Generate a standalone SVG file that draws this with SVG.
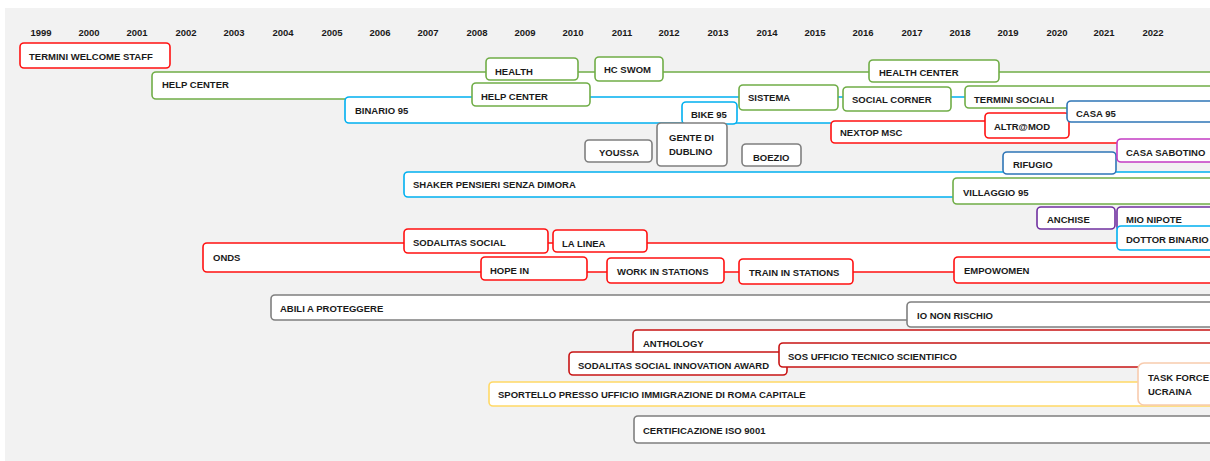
<svg xmlns="http://www.w3.org/2000/svg" width="1210" height="461" viewBox="0 0 1210 461">
<style>
rect.n{fill:#ffffff;stroke-width:1.6}
.r{stroke:#ff1111}
.dr{stroke:#c81414}
.g{stroke:#70ad47}
.b{stroke:#00b0f0}
.db{stroke:#2e75b6}
.p{stroke:#7030a0}
.m{stroke:#c33cc3}
.gy{stroke:#7f7f7f}
.y{stroke:#ffd966}
.pe{stroke:#f8cbad}
text{font-family:"Liberation Sans",Arial,sans-serif;font-weight:bold;font-size:9.5px;fill:#1a1a1a}
.yr{text-anchor:middle}
</style>
<rect x="5" y="8" width="1210" height="460" fill="#f2f2f2"/>
<g id="years">
<text class="yr" x="41" y="35.5">1999</text>
<text class="yr" x="89" y="35.5">2000</text>
<text class="yr" x="137" y="35.5">2001</text>
<text class="yr" x="186" y="35.5">2002</text>
<text class="yr" x="234" y="35.5">2003</text>
<text class="yr" x="283" y="35.5">2004</text>
<text class="yr" x="332" y="35.5">2005</text>
<text class="yr" x="380" y="35.5">2006</text>
<text class="yr" x="428" y="35.5">2007</text>
<text class="yr" x="477" y="35.5">2008</text>
<text class="yr" x="525" y="35.5">2009</text>
<text class="yr" x="573" y="35.5">2010</text>
<text class="yr" x="622" y="35.5">2011</text>
<text class="yr" x="669" y="35.5">2012</text>
<text class="yr" x="718" y="35.5">2013</text>
<text class="yr" x="767" y="35.5">2014</text>
<text class="yr" x="815" y="35.5">2015</text>
<text class="yr" x="863" y="35.5">2016</text>
<text class="yr" x="912" y="35.5">2017</text>
<text class="yr" x="960" y="35.5">2018</text>
<text class="yr" x="1008" y="35.5">2019</text>
<text class="yr" x="1057" y="35.5">2020</text>
<text class="yr" x="1104" y="35.5">2021</text>
<text class="yr" x="1153" y="35.5">2022</text>
</g>
<g id="connectors"></g>
<g id="termini-welcome-staff"><rect class="n r" x="20" y="43" width="150" height="25" rx="4"/><text x="29" y="59.5">TERMINI WELCOME STAFF</text></g>
<g id="help-center"><rect class="n g" x="152" y="72" width="1090" height="27" rx="4"/><text x="162" y="87.5">HELP CENTER</text></g>
<g id="binario-95"><rect class="n b" x="345" y="97" width="900" height="26" rx="4"/><text x="355" y="113.5">BINARIO 95</text></g>
<g id="health"><rect class="n g" x="486" y="58" width="92" height="22" rx="4"/><text x="495" y="74.5">HEALTH</text></g>
<g id="hc-swom"><rect class="n g" x="595" y="57" width="68" height="24" rx="4"/><text x="604" y="72.5">HC SWOM</text></g>
<g id="health-center"><rect class="n g" x="869" y="60" width="130" height="22" rx="4"/><text x="879" y="75.5">HEALTH CENTER</text></g>
<g id="help-center-2"><rect class="n g" x="472" y="83" width="118" height="23" rx="4"/><text x="481" y="100">HELP CENTER</text></g>
<g id="sistema"><rect class="n g" x="739" y="85" width="99" height="25" rx="4"/><text x="748" y="100.5">SISTEMA</text></g>
<g id="social-corner"><rect class="n g" x="843" y="87" width="108" height="24" rx="4"/><text x="852" y="102.5">SOCIAL CORNER</text></g>
<g id="termini-sociali"><rect class="n g" x="965" y="86" width="280" height="22" rx="4"/><text x="974" y="102.5">TERMINI SOCIALI</text></g>
<g id="bike-95"><rect class="n b" x="682" y="102" width="55" height="22" rx="4"/><text x="691" y="117.5">BIKE 95</text></g>
<g id="nextop-msc"><rect class="n r" x="831" y="121" width="410" height="22" rx="4"/><text x="840" y="135.5">NEXTOP MSC</text></g>
<g id="altr-mod"><rect class="n r" x="985" y="113" width="84" height="25" rx="4"/><text x="994" y="129.5">ALTR@MOD</text></g>
<g id="casa-95"><rect class="n db" x="1067" y="101" width="180" height="21" rx="4"/><text x="1076" y="116.5">CASA 95</text></g>
<g id="gente-di-dublino"><rect class="n gy" x="657" y="123" width="70" height="43" rx="4"/><text x="669" y="140.5">GENTE DI</text><text x="669" y="154.5">DUBLINO</text></g>
<g id="youssa"><rect class="n gy" x="585" y="140" width="67" height="22" rx="4"/><text x="599" y="155.5">YOUSSA</text></g>
<g id="boezio"><rect class="n gy" x="742" y="144" width="59" height="22" rx="4"/><text x="753" y="160.5">BOEZIO</text></g>
<g id="shaker"><rect class="n b" x="404" y="172" width="840" height="25" rx="4"/><text x="413" y="187.5">SHAKER PENSIERI SENZA DIMORA</text></g>
<g id="rifugio"><rect class="n db" x="1003" y="152" width="113" height="22" rx="4"/><text x="1013" y="167.5">RIFUGIO</text></g>
<g id="casa-sabotino"><rect class="n m" x="1117" y="139" width="130" height="23" rx="4"/><text x="1126" y="155.5">CASA SABOTINO</text></g>
<g id="villaggio-95"><rect class="n g" x="953" y="178" width="290" height="26" rx="4"/><text x="963" y="195.5">VILLAGGIO 95</text></g>
<g id="anchise"><rect class="n p" x="1037" y="207" width="78" height="22" rx="4"/><text x="1047" y="222.5">ANCHISE</text></g>
<g id="mio-nipote"><rect class="n p" x="1117" y="207" width="130" height="24" rx="4"/><text x="1126" y="222.5">MIO NIPOTE</text></g>
<g id="onds"><rect class="n r" x="203" y="243" width="1040" height="29" rx="4"/><text x="213" y="260.5">ONDS</text></g>
<g id="sodalitas-social"><rect class="n r" x="404" y="229" width="144" height="24" rx="4"/><text x="413" y="245.5">SODALITAS SOCIAL</text></g>
<g id="la-linea"><rect class="n r" x="553" y="230" width="94" height="22" rx="4"/><text x="562" y="246.5">LA LINEA</text></g>
<g id="dottor-binario"><rect class="n b" x="1117" y="226" width="130" height="24" rx="4"/><text x="1126" y="242.5">DOTTOR BINARIO</text></g>
<g id="hope-in"><rect class="n r" x="481" y="257" width="106" height="23" rx="4"/><text x="490" y="273.5">HOPE IN</text></g>
<g id="work-in-stations"><rect class="n r" x="607" y="258" width="117" height="25" rx="4"/><text x="617" y="274.5">WORK IN STATIONS</text></g>
<g id="train-in-stations"><rect class="n r" x="739" y="259" width="114" height="25" rx="4"/><text x="749" y="275.5">TRAIN IN STATIONS</text></g>
<g id="empowomen"><rect class="n r" x="954" y="257" width="290" height="26" rx="4"/><text x="964" y="273.5">EMPOWOMEN</text></g>
<g id="abili-a-proteggere"><rect class="n gy" x="271" y="295" width="975" height="25" rx="4"/><text x="280" y="311.5">ABILI A PROTEGGERE</text></g>
<g id="io-non-rischio"><rect class="n gy" x="907" y="302" width="340" height="25" rx="4"/><text x="917" y="318.5">IO NON RISCHIO</text></g>
<g id="anthology"><rect class="n dr" x="633" y="330" width="612" height="30" rx="4"/><text x="643" y="346.5">ANTHOLOGY</text></g>
<g id="sodalitas-award"><rect class="n dr" x="569" y="352" width="218" height="23" rx="4"/><text x="578" y="368.5">SODALITAS SOCIAL INNOVATION AWARD</text></g>
<g id="sos-ufficio"><rect class="n dr" x="779" y="343" width="466" height="24" rx="4"/><text x="788" y="359.5">SOS UFFICIO TECNICO SCIENTIFICO</text></g>
<g id="sportello"><rect class="n y" x="489" y="382" width="756" height="24" rx="4"/><text x="498" y="397.5">SPORTELLO PRESSO UFFICIO IMMIGRAZIONE DI ROMA CAPITALE</text></g>
<g id="task-force-ucraina"><rect class="n pe" x="1138" y="363" width="110" height="42" rx="6"/><text x="1148" y="380.5">TASK FORCE</text><text x="1148" y="394.5">UCRAINA</text></g>
<g id="certificazione"><rect class="n gy" x="634" y="416" width="612" height="27" rx="4"/><text x="643" y="433.5">CERTIFICAZIONE ISO 9001</text></g>
</svg>
